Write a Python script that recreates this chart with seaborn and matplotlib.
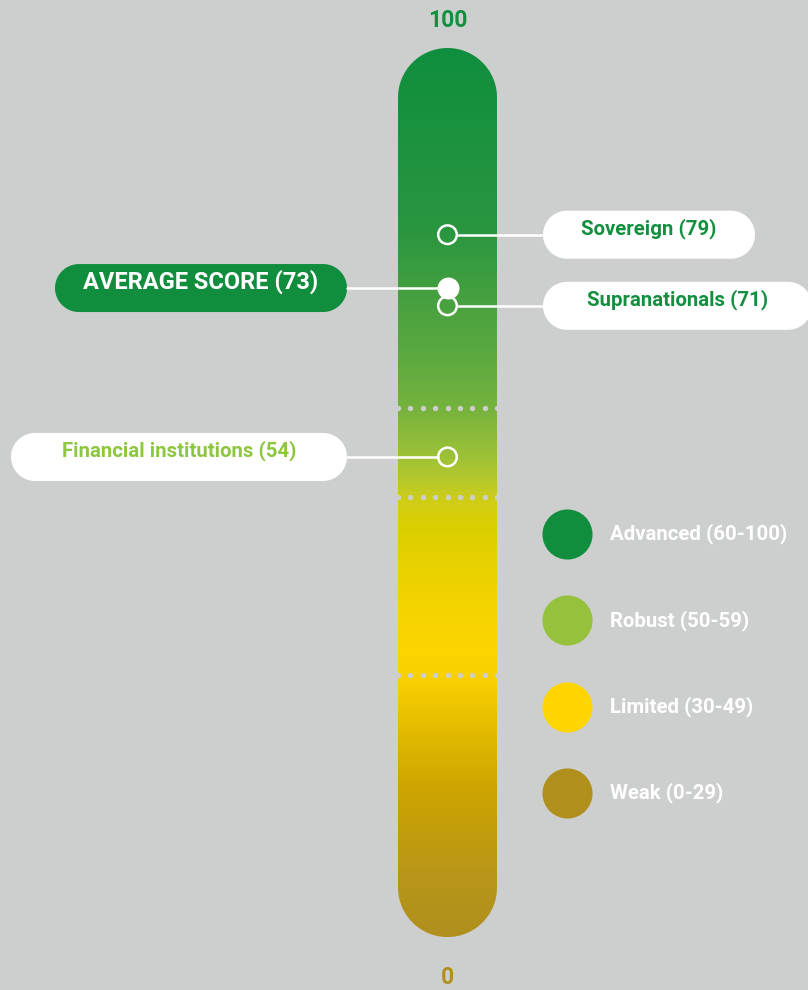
import numpy as np
import matplotlib
matplotlib.use("Agg")
import matplotlib.pyplot as plt
from matplotlib.colors import LinearSegmentedColormap
from matplotlib.patches import PathPatch
from matplotlib.path import Path
import seaborn as sns

# scores
sectors = ["Sovereign", "Supranationals", "Financial institutions"]
sector_scores = [79, 71, 54]
average_score = 73

# maturity bands (legend)
bands = ["Advanced", "Robust", "Limited", "Weak"]
band_ranges = ["60-100", "50-59", "30-49", "0-29"]
band_colors = ["#108E3E", "#95C13D", "#FFD500", "#B08F1D"]
band_edges = [59.5, 49.5, 29.5]

# colour of the bar along the score axis
grad_scores = [0, 6.4, 16.5, 28.5, 32.3, 37.9, 45.8, 48.8, 51.4, 54.2, 59.4, 62.7, 79.6, 100]
grad_colors = ["#B08F1D", "#B8961A", "#CDA400", "#F8CF00", "#FDD500", "#F3D300", "#DCCF00",
               "#D2CE15", "#B5C82C", "#9CC137", "#76B33D", "#66AD3F", "#2A9640", "#0F8E3E"]

bg = "#CDCFCE"
sns.set_theme(style="white", rc={"figure.facecolor": bg, "axes.facecolor": bg})
plt.rcParams["font.family"] = ["Roboto", "DejaVu Sans"]

W, H = 808, 990
ylo, yhi = -5.96, 105.40
fig = plt.figure(figsize=(W / 100, H / 100), dpi=100)
ax = fig.add_axes([0, 0, 1, 1])
asp = (yhi - ylo) / H  # score units per pixel


def rounded_path(x0, x1, y0, y1, r):
    # rectangle with circular corners of radius r pixels (y in score units)
    ry = r * asp
    t = np.linspace(0, np.pi / 2, 40)
    pts = []
    for (cx, cy), a0 in [((x1 - r, y1 - ry), 0), ((x0 + r, y1 - ry), np.pi / 2),
                         ((x0 + r, y0 + ry), np.pi), ((x1 - r, y0 + ry), 1.5 * np.pi)]:
        pts.append(np.column_stack([cx + r * np.cos(a0 + t), cy + ry * np.sin(a0 + t)]))
    v = np.vstack(pts + [pts[0][:1]])
    codes = [Path.MOVETO] + [Path.LINETO] * (len(v) - 2) + [Path.CLOSEPOLY]
    return Path(v, codes)


# gauge bar
bar_x0, bar_x1 = 398, 497
bar_cx = (bar_x0 + bar_x1) / 2
bar_w = bar_x1 - bar_x0
capsule = PathPatch(rounded_path(bar_x0, bar_x1, 0, 100, bar_w / 2), fc="none", ec="none")
ax.add_patch(capsule)
cmap = LinearSegmentedColormap.from_list(
    "score", list(zip(np.array(grad_scores) / 100, grad_colors)))
grad = np.linspace(0, 1, 600).reshape(-1, 1)
im = ax.imshow(grad, cmap=cmap, extent=[bar_x0, bar_x1, 0, 100], origin="lower",
               aspect="auto", interpolation="bilinear", zorder=1)
im.set_clip_path(capsule)

# dotted band separators
dot_x = np.arange(bar_x0, bar_x1 + 1, 12.4)
for e in band_edges:
    ax.scatter(dot_x, np.full_like(dot_x, e), s=15, color=bg, linewidths=0, zorder=2)

# end labels
ax.annotate("100", (bar_cx, 100), xytext=(0, 20), textcoords="offset points",
            ha="center", va="center", fontsize=16.5, fontweight="bold", color="#12903F")
ax.annotate("0", (bar_cx, 0), xytext=(0, -29.5), textcoords="offset points",
            ha="center", va="center", fontsize=16.5, fontweight="bold", color="#B0901E")


def label_box(x0, x1, score, text, fc, tc, size):
    h = 48
    box = PathPatch(rounded_path(x0, x1, score - h / 2 * asp, score + h / 2 * asp, h / 2),
                    fc=fc, ec="none", zorder=3)
    ax.add_patch(box)
    ax.text((x0 + x1) / 2, score + 6 * asp, text, ha="center", va="center",
            color=tc, fontsize=size, fontweight="bold", zorder=4)
    # connector to the bar
    if x0 > bar_cx:
        ax.plot([bar_cx + 10, x0], [score, score], color="white", lw=1.8, zorder=3)
    else:
        ax.plot([x1, bar_cx - 10], [score, score], color="white", lw=1.8, zorder=3)


box_spans = [(543, 755), (543, 812), (11, 347)]
box_text_colors = ["#12903F", "#12903F", "#8DC63F"]
for name, sc, span, tc in zip(sectors, sector_scores, box_spans, box_text_colors):
    label_box(span[0], span[1], sc, f"{name} ({sc})", "white", tc, 14.7)

label_box(55, 347, average_score, f"AVERAGE SCORE ({average_score})", "#108E3E", "white", 17)

# markers
sns.scatterplot(x=[bar_cx] * len(sector_scores), y=sector_scores, s=180,
                color="white", linewidth=1.8, ax=ax, zorder=5)
ax.collections[-1].set_facecolor("none")
ax.collections[-1].set_edgecolor("white")
sns.scatterplot(x=[bar_cx], y=[average_score], s=250, color="white", linewidth=0,
                ax=ax, zorder=5)

# legend
for i, (b, r, c) in enumerate(zip(bands, band_ranges, band_colors)):
    fy = 1 - (534 + 86.3 * i) / H
    ax.scatter([567 / W], [fy], s=1300, color=c, linewidths=0,
               transform=ax.transAxes, zorder=3)
    ax.text(610 / W, fy, f"{b} ({r})", transform=ax.transAxes, ha="left",
            va="center", color="white", fontsize=14.7, fontweight="bold")

ax.set_xlim(0, W)
ax.set_ylim(ylo, yhi)
ax.axis("off")
fig.savefig("out.png", dpi=100, facecolor=bg)
